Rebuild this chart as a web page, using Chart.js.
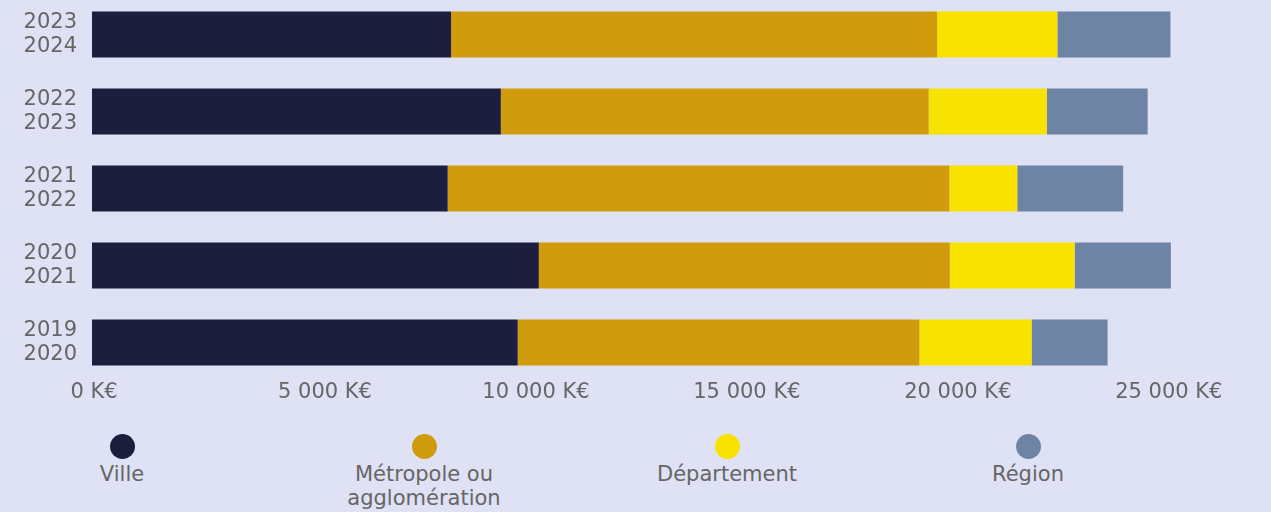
<!DOCTYPE html>
<html lang="fr">
<head>
<meta charset="utf-8">
<script src="https://cdn.jsdelivr.net/npm/chart.js@4/dist/chart.umd.min.js"></script>
<style>
  html, body { margin: 0; padding: 0; }
  body {
    width: 1271px;
    height: 512px;
    background: #dfe1f4;
    overflow: hidden;
    position: relative;
    font-family: "DejaVu Sans", sans-serif;
  }
  #chart-box {
    position: absolute;
    left: 0;
    top: -4px;
    width: 1271px;
    height: 420px;
  }
  .legend-item {
    position: absolute;
    top: 434px;
    width: 260px;
    text-align: center;
    color: #666666;
    font-size: 21px;
    line-height: 24px;
  }
  .legend-item .dot {
    width: 25px;
    height: 25px;
    border-radius: 50%;
    margin: 0 auto 3px auto;
  }
</style>
</head>
<body>
<div id="chart-box"><canvas id="fundingChart"></canvas></div>
<div id="legend"></div>

<script>
// Categories (top to bottom)
const periods = [["2023", "2024"], ["2022", "2023"], ["2021", "2022"], ["2020", "2021"], ["2019", "2020"]];

// Series values in K€
const ville = [8510, 9690, 8430, 10590, 10090];
const metropole = [11520, 10140, 11890, 9740, 9520];
const departement = [2850, 2800, 1610, 2960, 2660];
const region = [2680, 2390, 2510, 2280, 1800];

const seriesNames = ["Ville", "Métropole ou agglomération", "Département", "Région"];
const seriesColors = ["#1b1f3d", "#d09c0e", "#f8e200", "#6e84a5"];

// x axis ticks
const xTickValues = [0, 5000, 10000, 15000, 20000, 25000];
const xTickLabels = ["0 K€", "5 000 K€", "10 000 K€", "15 000 K€", "20 000 K€", "25 000 K€"];

const seriesValues = [ville, metropole, departement, region];

const datasets = seriesNames.map((name, i) => ({
    label: name,
    data: seriesValues[i],
    backgroundColor: seriesColors[i],
    borderWidth: 0,
    barPercentage: 0.6,
    categoryPercentage: 1
}));

const tickColor = "#666666";

new Chart(document.getElementById("fundingChart"), {
    type: "bar",
    data: { labels: periods, datasets: datasets },
    options: {
        indexAxis: "y",
        responsive: true,
        maintainAspectRatio: false,
        animation: false,
        layout: { padding: { left: 0, right: 82, top: 0, bottom: 0 } },
        plugins: {
            legend: { display: false },
            tooltip: { enabled: true }
        },
        scales: {
            x: {
                stacked: true,
                min: 0,
                max: 26000,
                grid: { display: false, drawTicks: false },
                border: { display: false },
                afterBuildTicks: function (scale) {
                    scale.ticks = xTickValues.map(v => ({ value: v }));
                },
                afterFit: function (scale) {
                    scale.height = 35;
                },
                ticks: {
                    padding: 3,
                    labelOffset: 22,
                    maxRotation: 0,
                    autoSkip: false,
                    color: tickColor,
                    font: { family: "DejaVu Sans", size: 21, lineHeight: 0.8 },
                    callback: function (value, index) {
                        const label = xTickLabels[index];
                        // first label sits closer to the axis start
                        return index === 0 ? label + "      " : label;
                    }
                }
            },
            y: {
                stacked: true,
                grid: { display: false, drawTicks: false },
                border: { display: false },
                afterFit: function (scale) {
                    scale.width = 92;
                    scale.paddingTop = 0;
                    scale.paddingBottom = 0;
                },
                ticks: {
                    padding: 15,
                    color: tickColor,
                    font: { family: "DejaVu Sans", size: 21, lineHeight: 1.13 }
                }
            }
        }
    }
});

// Legend below the chart: dot above the name
const legend = document.getElementById("legend");
const legendCenters = [122, 424, 727, 1028];
const legendNames = ["Ville", "Métropole ou<br>agglomération", "Département", "Région"];
seriesNames.forEach((name, i) => {
    const item = document.createElement("div");
    item.className = "legend-item";
    item.style.left = (legendCenters[i] - 130) + "px";
    item.innerHTML = `<div class="dot" style="background:${seriesColors[i]}"></div>${legendNames[i]}`;
    legend.appendChild(item);
});
</script>
</body>
</html>
